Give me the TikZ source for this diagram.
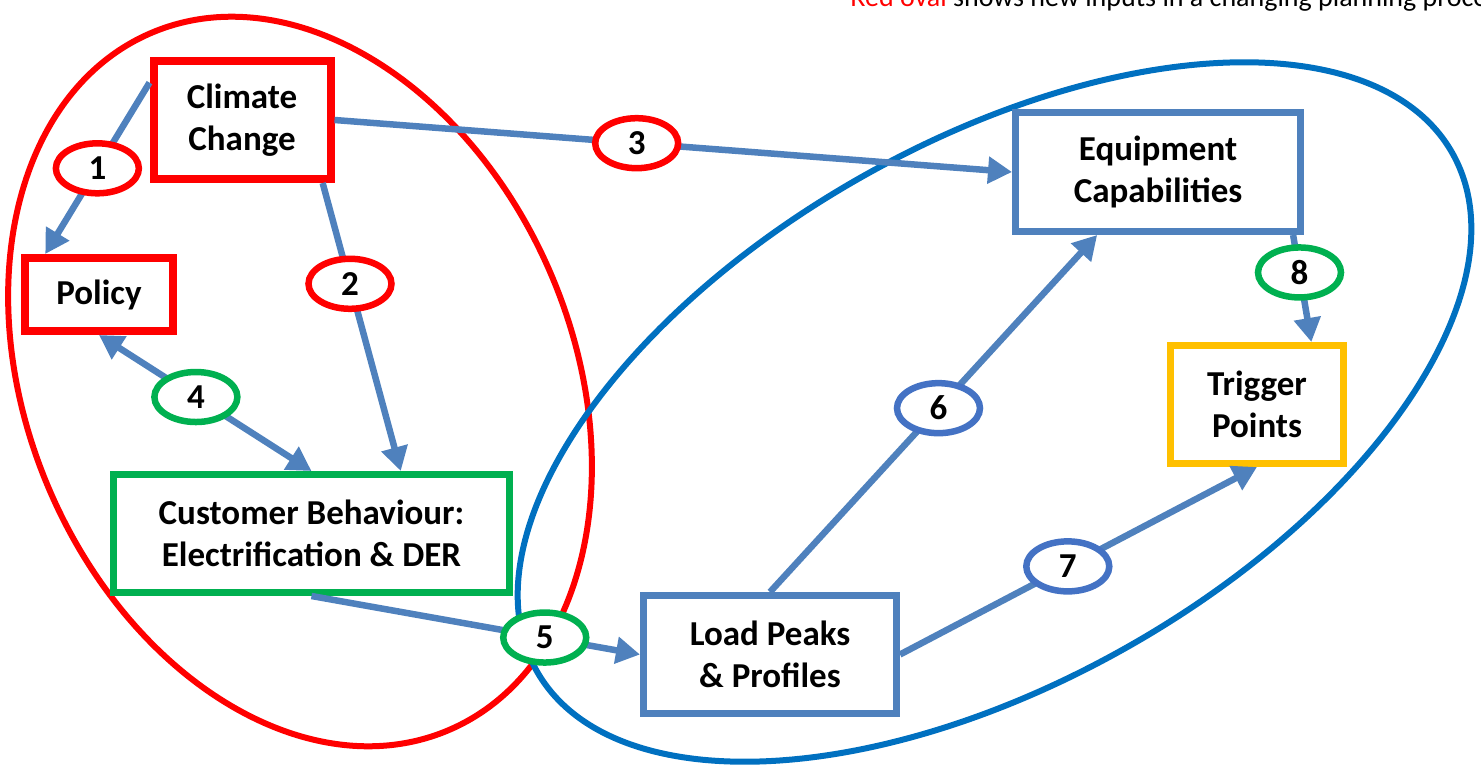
\documentclass[tikz,border=0pt]{standalone}
\usepackage{fontspec}
\setmainfont{Carlito}
\usetikzlibrary{arrows.meta,shapes.geometric}
\definecolor{ovalred}{HTML}{FF0000}
\definecolor{ovalblue}{HTML}{0070C0}
\definecolor{boxblue}{HTML}{4F81BD}
\definecolor{boxgreen}{HTML}{00B050}
\definecolor{boxyellow}{HTML}{FFC000}
\definecolor{numblue}{HTML}{4472C4}
\colorlet{linecolor}{boxblue}
\tikzset{boxbase/.style={shape=rectangle, line width=3.5pt, fill=white, text=black, align=center, inner sep=0pt, font=\fontsize{17.5}{21}\selectfont\bfseries},%
    redbox/.style={boxbase, draw=ovalred, line width=4pt},%
    greenbox/.style={boxbase, draw=boxgreen},%
    bluebox/.style={boxbase, draw=boxblue},%
    yellowbox/.style={boxbase, draw=boxyellow},%
    num/.style={shape=ellipse, draw=#1, line width=3.25pt, fill=white, text=black, inner sep=0pt, minimum width=41.5pt, minimum height=25pt, font=\fontsize{17.5}{21}\selectfont\bfseries},%
    conn/.style={line width=3.25pt, color=linecolor},%
    onetip/.style={-{Triangle[length=12pt, width=13pt]}},%
    twotips/.style={{Triangle[length=12pt, width=13pt]}-{Triangle[length=12pt, width=13pt]}},%
    oval/.style={line width=3pt}%
}
\begin{document}
\begin{tikzpicture}[x=0.5pt, y=-0.5pt]
    \useasboundingbox (0,0) rectangle (1481,765);
    \begin{scope} %draw ovals and note
        \draw[oval, color=ovalred] (300,381.5) ellipse [x radius=273, y radius=379, rotate=23.1];
        \draw[oval, color=ovalblue] (994.5,412) ellipse [x radius=526, y radius=270, rotate=29.5];
        \node[anchor=base west, inner sep=0pt, font=\fontsize{14}{16}\selectfont] (note) at (850,7) {\textcolor{ovalred}{Red oval} shows new inputs in a changing planning process};
    \end{scope}
    \begin{scope} %draw boxes
        \foreach \nodename/\nodetype/\xpos/\ypos/\boxw/\boxh/\content in {%
                climate/redbox/242/120/88.5/59/{Climate\\Change},
                policy/redbox/99/294.5/74/36.5/{Policy},
                customer/greenbox/311.5/533.5/198/59/{Customer Behaviour:\\Electrification \& DER},
                load/bluebox/770/654.5/126.5/59/{Load Peaks\\\& Profiles},
                equipment/bluebox/1158/172/142.5/59.5/{Equipment\\Capabilities},
                trigger/yellowbox/1257/404.5/86.5/59/{Trigger\\Points}%
            } \node[\nodetype, minimum width=\boxw pt, minimum height=\boxh pt] (\nodename) at (\xpos, \ypos) {\content};
    \end{scope}
    \begin{scope} %draw connections with numbers
        \foreach \from/\to/\tips/\numcolor/\where/\numtext in {%
                climate.158/policy.143/onetip/ovalred/0.5/1,
                climate.-38/customer.35/onetip/ovalred/0.35/2,
                climate.east/equipment.west/onetip/ovalred/0.446/3,
                policy.south/customer.north/twotips/boxgreen/0.456/4,
                customer.south/load.west/onetip/boxgreen/0.71/5,
                load.north/equipment.-134/onetip/numblue/0.515/6,
                load.east/trigger.south/onetip/numblue/0.47/7,
                equipment.-25/trigger.49/onetip/boxgreen/0.35/8%
            } \draw[conn, \tips] (\from) -- node[num=\numcolor, pos=\where] (n\numtext) {\numtext} (\to);
    \end{scope}
\end{tikzpicture}
\end{document}
